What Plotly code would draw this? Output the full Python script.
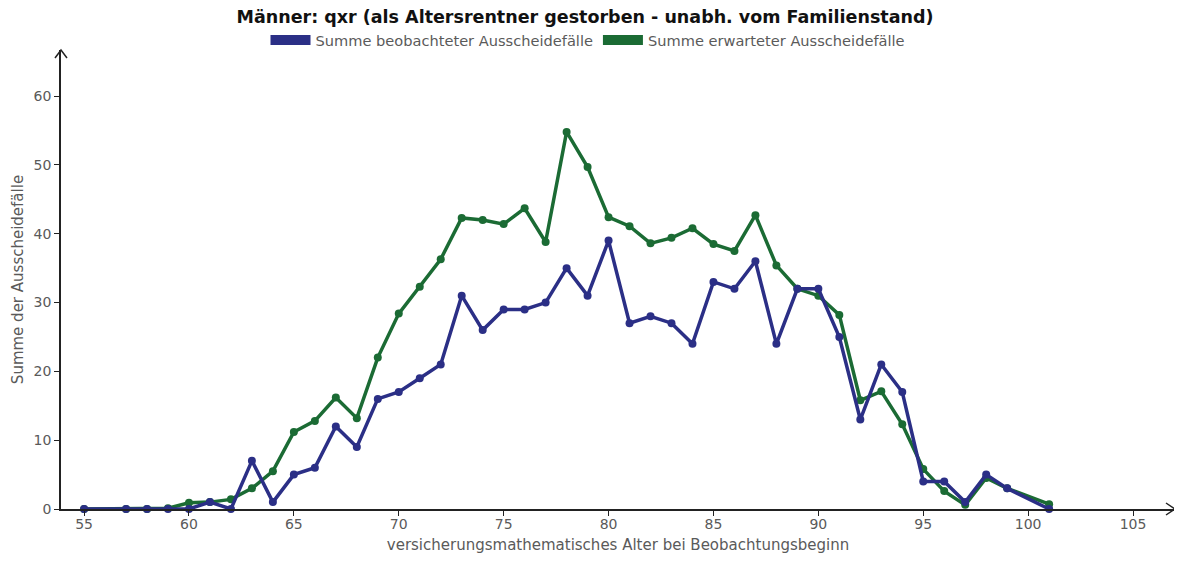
"""Männer: qxr – beobachtete vs. erwartete Ausscheidefälle."""

import plotly.graph_objects as go

alter = [55, 57, 58, 59, 60, 61, 62, 63, 64, 65, 66, 67, 68, 69, 70, 71, 72, 73, 74, 75,
         76, 77, 78, 79, 80, 81, 82, 83, 84, 85, 86, 87, 88, 89, 90, 91, 92, 93, 94, 95,
         96, 97, 98, 99, 101]

beobachtet = [0, 0, 0, 0, 0, 1, 0, 7, 1, 5, 6, 12, 9, 16, 17, 19, 21, 31, 26, 29,
              29, 30, 35, 31, 39, 27, 28, 27, 24, 33, 32, 36, 24, 32, 32, 25, 13, 21, 17, 4,
              4, 1, 5, 3, 0]

erwartet = [0, 0, 0, 0.1, 0.9, 1.0, 1.4, 3.0, 5.5, 11.2, 12.8, 16.2, 13.2, 22.0, 28.4, 32.3, 36.3, 42.3, 42.0, 41.4,
            43.7, 38.8, 54.8, 49.7, 42.4, 41.1, 38.6, 39.4, 40.8, 38.5, 37.5, 42.7, 35.4, 32.0, 31.0, 28.2, 15.8, 17.1, 12.3, 5.8,
            2.6, 0.6, 4.5, 3.0, 0.7]

x_ticks = [55, 60, 65, 70, 75, 80, 85, 90, 95, 100, 105]
y_ticks = [0, 10, 20, 30, 40, 50, 60]

BLAU = '#2B2F86'
GRUEN = '#1B6B34'
GRAU = '#5a5a5a'
SCHRIFT = 'DejaVu Sans, Noto Sans, sans-serif'

fig = go.Figure()

# Linien (Legende über eigene Einträge)
fig.add_trace(go.Scatter(
    x=alter, y=erwartet, mode='lines+markers', showlegend=False,
    line=dict(color=GRUEN, width=3.5), marker=dict(size=8, color=GRUEN),
    cliponaxis=False
))
fig.add_trace(go.Scatter(
    x=alter, y=beobachtet, mode='lines+markers', showlegend=False,
    line=dict(color=BLAU, width=3.5), marker=dict(size=8, color=BLAU),
    cliponaxis=False
))

# Legendeneinträge als Balken-Symbole
fig.add_trace(go.Scatter(x=[None], y=[None], mode='lines', name='Summe beobachteter Ausscheidefälle',
                         line=dict(color=BLAU, width=10)))
fig.add_trace(go.Scatter(x=[None], y=[None], mode='lines', name='Summe erwarteter Ausscheidefälle',
                         line=dict(color=GRUEN, width=10)))

# Seite hat 8px Body-Rand -> Figur etwas kleiner
W, H = 1174, 554
L, R, T, B = 53, 7, 42, 53
pw, ph = W - L - R, H - T - B

fig.update_layout(
    width=W, height=H,
    margin=dict(l=L, r=R, t=T, b=B, autoexpand=False),
    plot_bgcolor='white', paper_bgcolor='white',
    font=dict(family=SCHRIFT, size=14, color=GRAU),
    title=dict(
        text='<b>Männer: qxr (als Altersrentner gestorben - unabh. vom Familienstand)</b>',
        x=(585 - 8) / W, xref='container', xanchor='center',
        y=1 - 9 / H, yref='container', yanchor='middle',
        font=dict(family=SCHRIFT, size=17.5, color='#111111')
    ),
    legend=dict(
        orientation='h', x=(588 - 8) / W, xref='container', xanchor='center',
        y=1 - 32 / H, yref='container', yanchor='middle',
        font=dict(size=14.6, color=GRAU), itemwidth=40, tracegroupgap=0
    ),
    showlegend=True,
)

fig.update_xaxes(
    range=[53.9, 107], tickvals=x_ticks, showgrid=False, zeroline=False,
    showline=True, linecolor='#222222', linewidth=1.5,
    ticks='outside', ticklen=5, tickcolor='#222222',
    tickfont=dict(size=14, color=GRAU), ticklabelstandoff=-4,
    title=dict(text='versicherungsmathematisches Alter bei Beobachtungsbeginn',
               font=dict(size=15, color=GRAU), standoff=9)
)
fig.update_yaxes(
    range=[0, 66.7], tickvals=y_ticks, showgrid=False, zeroline=False,
    showline=True, linecolor='#222222', linewidth=1.5,
    ticks='outside', ticklen=5, tickcolor='#222222',
    tickfont=dict(size=14, color=GRAU),
    title=dict(text='Summe der Ausscheidefälle', font=dict(size=15, color=GRAU), standoff=6)
)

# Pfeilspitzen an den Achsenenden
dx, dy = 6 / pw, 8 / ph
fig.add_shape(type='path', xref='paper', yref='paper',
              path=f'M {-dx} {1 - dy} L 0 1 L {dx} {1 - dy}',
              line=dict(color='#222222', width=1.5))
dx2, dy2 = 9 / pw, 6 / ph
fig.add_shape(type='path', xref='paper', yref='paper',
              path=f'M {1 - dx2} {dy2} L 1 0 L {1 - dx2} {-dy2}',
              line=dict(color='#222222', width=1.5))

fig.write_html("out.html")
